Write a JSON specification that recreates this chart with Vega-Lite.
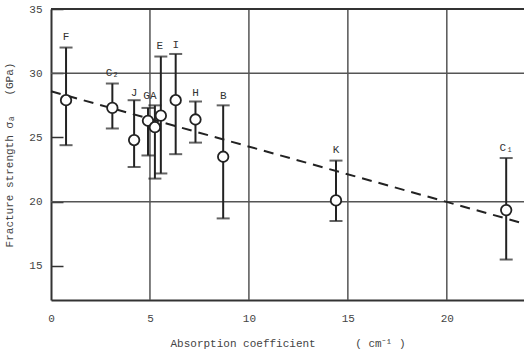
{
  "$schema": "https://vega.github.io/schema/vega-lite/v6.json",
  "width": 473,
  "height": 291,
  "autosize": "none",
  "padding": {"left": 51, "top": 9, "right": 0, "bottom": 58},
  "background": "white",
  "config": {
    "view": {"stroke": null},
    "font": "Liberation Mono",
    "axis": {"labelFont": "Liberation Mono", "titleFont": "Liberation Mono", "labelColor": "#444", "titleColor": "#444", "titleFontWeight": "normal", "labelFontSize": 11, "titleFontSize": 11}
  },
  "datasets": {
    "pts": [
      {"name": "F", "x": 0.76, "y": 27.9, "lo": 24.4, "hi": 32.0},
      {"name": "C2", "x": 3.1, "y": 27.3, "lo": 25.7, "hi": 29.2},
      {"name": "J", "x": 4.2, "y": 24.8, "lo": 22.7, "hi": 27.9},
      {"name": "G", "x": 4.9, "y": 26.3, "lo": 23.6, "hi": 27.3},
      {"name": "A", "x": 5.25, "y": 25.8, "lo": 21.8, "hi": 27.5},
      {"name": "E", "x": 5.55, "y": 26.7, "lo": 22.2, "hi": 31.3},
      {"name": "I", "x": 6.3, "y": 27.9, "lo": 23.7, "hi": 31.5},
      {"name": "H", "x": 7.3, "y": 26.4, "lo": 24.6, "hi": 27.8},
      {"name": "B", "x": 8.7, "y": 23.5, "lo": 18.7, "hi": 27.5},
      {"name": "K", "x": 14.4, "y": 20.1, "lo": 18.5, "hi": 23.2},
      {"name": "C1", "x": 23.0, "y": 19.35, "lo": 15.5, "hi": 23.4}
    ],
    "labels": [
      {"t": "F", "x": 0.76, "y": 32.8},
      {"t": "C₂", "x": 3.1, "y": 30.0},
      {"t": "J", "x": 4.2, "y": 28.5},
      {"t": "GA", "x": 5.0, "y": 28.2},
      {"t": "E", "x": 5.5, "y": 32.1},
      {"t": "I", "x": 6.3, "y": 32.2},
      {"t": "H", "x": 7.3, "y": 28.5},
      {"t": "B", "x": 8.7, "y": 28.2},
      {"t": "K", "x": 14.4, "y": 24.0},
      {"t": "C₁", "x": 23.0, "y": 24.2}
    ],
    "vgrid": [{"x": 5}, {"x": 10}, {"x": 15}, {"x": 20}],
    "hgrid": [{"y": 20}, {"y": 30}],
    "trend": [{"x": 0, "y": 28.6}, {"x": 23.9, "y": 18.3}]
  },
  "layer": [
    {
      "data": {"name": "vgrid"},
      "mark": {"type": "rule", "color": "#555", "strokeWidth": 1.5},
      "encoding": {
        "x": {"field": "x", "type": "quantitative", "scale": {"domain": [0, 23.9], "nice": false, "zero": false},
          "axis": {"values": [0, 5, 10, 15, 20], "title": "Absorption coefficient\u00a0\u00a0\u00a0\u00a0\u00a0\u00a0( cm⁻¹ )", "domain": true, "domainColor": "#333", "domainWidth": 2, "ticks": false, "grid": false, "labelPadding": 12, "titlePadding": 14, "labelFlush": false}},
        "y": {"value": 0},
        "y2": {"value": 291}
      }
    },
    {
      "data": {"name": "hgrid"},
      "mark": {"type": "rule", "color": "#555", "strokeWidth": 1.5},
      "encoding": {
        "y": {"field": "y", "type": "quantitative", "scale": {"domain": [12.35, 35], "nice": false, "zero": false},
          "axis": {"values": [15, 20, 25, 30, 35], "title": "Fracture strength σₐ\u00a0\u00a0\u00a0(GPa)", "domain": true, "domainColor": "#333", "domainWidth": 2, "ticks": true, "tickSize": -12, "tickColor": "#333", "tickWidth": 1.5, "grid": false, "labelPadding": 21, "titlePadding": 14}},
        "x": {"value": 0},
        "x2": {"value": 473}
      }
    },
    {
      "data": {"values": [{"a": 1}]},
      "mark": {"type": "rule", "color": "#333", "strokeWidth": 2},
      "encoding": {"x": {"value": 0}, "x2": {"value": 473}, "y": {"value": 0}}
    },
    {
      "data": {"name": "trend"},
      "mark": {"type": "line", "color": "#222", "strokeWidth": 2, "strokeDash": [10, 7]},
      "encoding": {
        "x": {"field": "x", "type": "quantitative"},
        "y": {"field": "y", "type": "quantitative"}
      }
    },
    {
      "data": {"name": "pts"},
      "mark": {"type": "rule", "color": "#222", "strokeWidth": 2},
      "encoding": {
        "x": {"field": "x", "type": "quantitative"},
        "y": {"field": "lo", "type": "quantitative"},
        "y2": {"field": "hi"}
      }
    },
    {
      "data": {"name": "pts"},
      "mark": {"type": "tick", "color": "#222", "orient": "horizontal", "size": 13, "thickness": 2},
      "encoding": {
        "x": {"field": "x", "type": "quantitative"},
        "y": {"field": "lo", "type": "quantitative"}
      }
    },
    {
      "data": {"name": "pts"},
      "mark": {"type": "tick", "color": "#222", "orient": "horizontal", "size": 13, "thickness": 2},
      "encoding": {
        "x": {"field": "x", "type": "quantitative"},
        "y": {"field": "hi", "type": "quantitative"}
      }
    },
    {
      "data": {"name": "pts"},
      "mark": {"type": "point", "shape": "circle", "filled": false, "fill": "white", "fillOpacity": 1, "stroke": "#222", "strokeWidth": 1.8, "size": 110, "opacity": 1},
      "encoding": {
        "x": {"field": "x", "type": "quantitative"},
        "y": {"field": "y", "type": "quantitative"}
      }
    },
    {
      "data": {"name": "labels"},
      "mark": {"type": "text", "font": "Liberation Mono", "fontSize": 11, "color": "#333", "baseline": "middle", "align": "center"},
      "encoding": {
        "x": {"field": "x", "type": "quantitative"},
        "y": {"field": "y", "type": "quantitative"},
        "text": {"field": "t"}
      }
    }
  ]
}
